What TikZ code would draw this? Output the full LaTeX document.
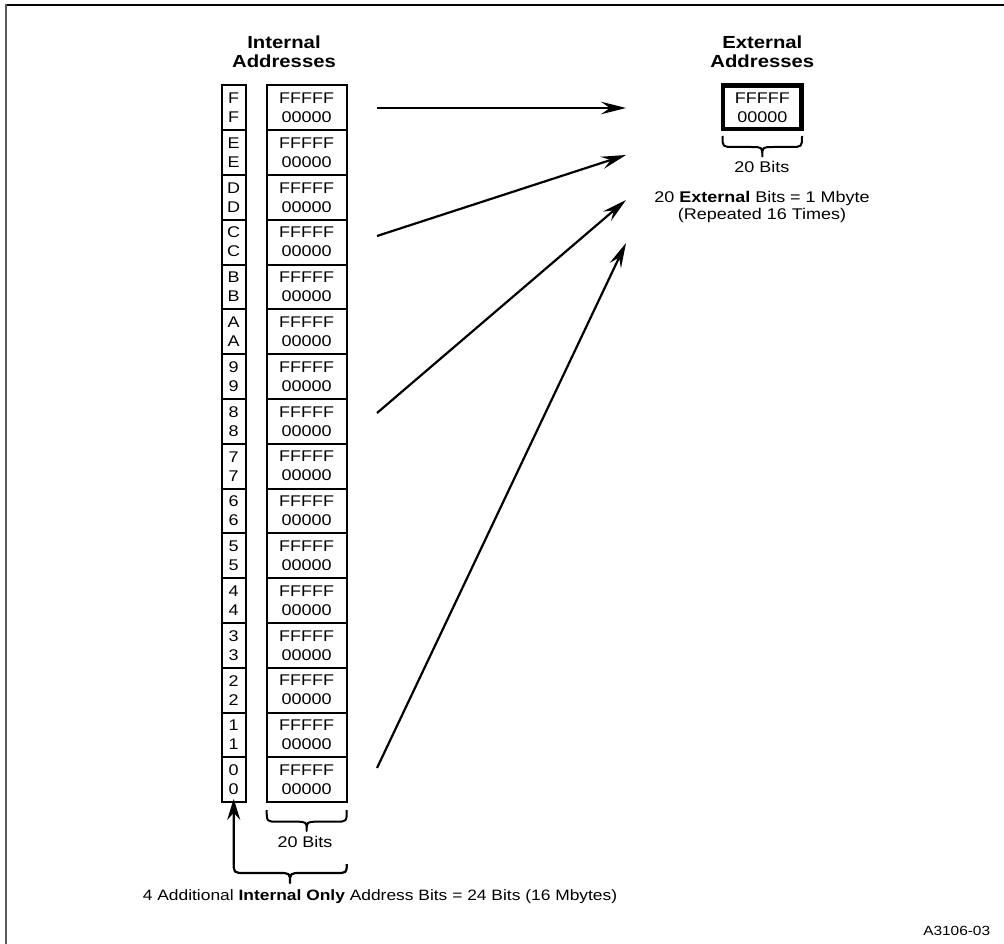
\documentclass[tikz,border=0pt]{standalone}
\usepackage{fontspec}
\setmainfont[FakeStretch=1.16]{Liberation Sans}
\usetikzlibrary{arrows.meta}
\newcommand\bodyfnt{\fontsize{15.5}{19}\selectfont}
\newcommand\notefnt{\fontsize{15}{19}\selectfont}
\newcommand\hdrfnt{\fontsize{17.5}{19}\selectfont\bfseries}
\newcommand\codefnt{\fontsize{13.3}{16}\selectfont}
\begin{document}
\begin{tikzpicture}[x=1pt,y=-1pt,
  cell/.style={draw, line width=2pt, inner sep=0pt, align=center, font=\bodyfnt},
  extbox/.style={draw, line width=4.7pt, inner sep=0pt, align=center, font=\bodyfnt,
    minimum width=78.7pt, minimum height=43.3pt},
  lbl/.style={font=\bodyfnt, inner sep=0pt, anchor=base},
  hdr/.style={font=\hdrfnt, inner sep=0pt, align=center, anchor=south},
  bracepath/.style={line width=2pt, line join=round},
  arr/.style={line width=2.2pt, -{Stealth[length=25pt, width=12.5pt, inset=9pt]}},
  uparr/.style={line width=2.2pt, {Stealth[length=21pt, width=13pt, inset=7pt]}-}]
\useasboundingbox (0,0) rectangle (1004,944);
% frame
\draw[line width=1.3pt] (5,5) -- (1004,5);
\draw[line width=1.8pt, black!65] (5.8,4.4) -- (5.8,944);
% headers
\node[hdr] (hint) at (284,67.5) {Internal\\Addresses};
\node[hdr] (hext) at (762.3,67.5) {External\\Addresses};
% columns
\foreach \l [count=\i from 0] in {F,E,D,C,B,A,9,8,7,6,5,4,3,2,1,0} {
  \pgfmathsetmacro\yc{85.3+44.81*(\i+0.5)}
  \node[cell, minimum width=24pt, minimum height=44.81pt] (s\l) at (233.7,\yc) {\l\\\l};
  \node[cell, minimum width=80pt, minimum height=44.81pt] (b\l) at (306.7,\yc) {FFFFF\\00000};
}
% external box
\node[extbox] (ext) at (762.3,107.3) {FFFFF\\00000};
% brace under external box
\draw[bracepath] (722.5,136) .. controls (722.5,147) .. (734,147) -- (751,147)
  .. controls (762.3,147) .. (762.3,156.5) .. controls (762.3,147) .. (773.6,147)
  -- (790.5,147) .. controls (802,147) .. (802,136);
\node[lbl] (extbits) at (761.8,172.7) {20 Bits};
\node[lbl] (extnote1) at (762,202.7) {20 \textbf{External} Bits = 1 Mbyte};
\node[lbl] (extnote2) at (762,220) {(Repeated 16 Times)};
% brace under big column
\draw[bracepath] (266.7,810) .. controls (266.7,821.7) .. (278,821.7) -- (295.4,821.7)
  .. controls (306.7,821.7) .. (306.7,831) .. controls (306.7,821.7) .. (318,821.7)
  -- (335.4,821.7) .. controls (346.7,821.7) .. (346.7,810);
\node[lbl] (intbits) at (305,847.3) {20 Bits};
% bottom brace with arrow into the small column
\draw[uparr, line join=round] ([yshift=4.4pt]s0.south) -- (233.7,862)
  .. controls (233.7,873) .. (245,873) -- (278.5,873)
  .. controls (290,873) .. (290,883) .. controls (290,873) .. (301.5,873)
  -- (335.5,873) .. controls (346.7,873) .. (346.7,864);
\node[lbl, font=\notefnt] (note) at (380,900) {4 Additional \textbf{Internal Only} Address Bits = 24 Bits (16 Mbytes)};
% arrows
\coordinate (a1s) at (377,108);  \coordinate (a1e) at (626,108);
\coordinate (a2s) at (377,236);  \coordinate (a2e) at (626,155);
\coordinate (a3s) at (377,413);  \coordinate (a3e) at (626,200);
\coordinate (a4s) at (377,768);  \coordinate (a4e) at (626,243);
\draw[arr] (a1s) -- (a1e);
\draw[arr] (a2s) -- (a2e);
\draw[arr] (a3s) -- (a3e);
\draw[arr] (a4s) -- (a4e);
% figure code
\node[font=\codefnt, inner sep=0pt, anchor=base] (code) at (956.7,935) {A3106-03};
\end{tikzpicture}
\end{document}
